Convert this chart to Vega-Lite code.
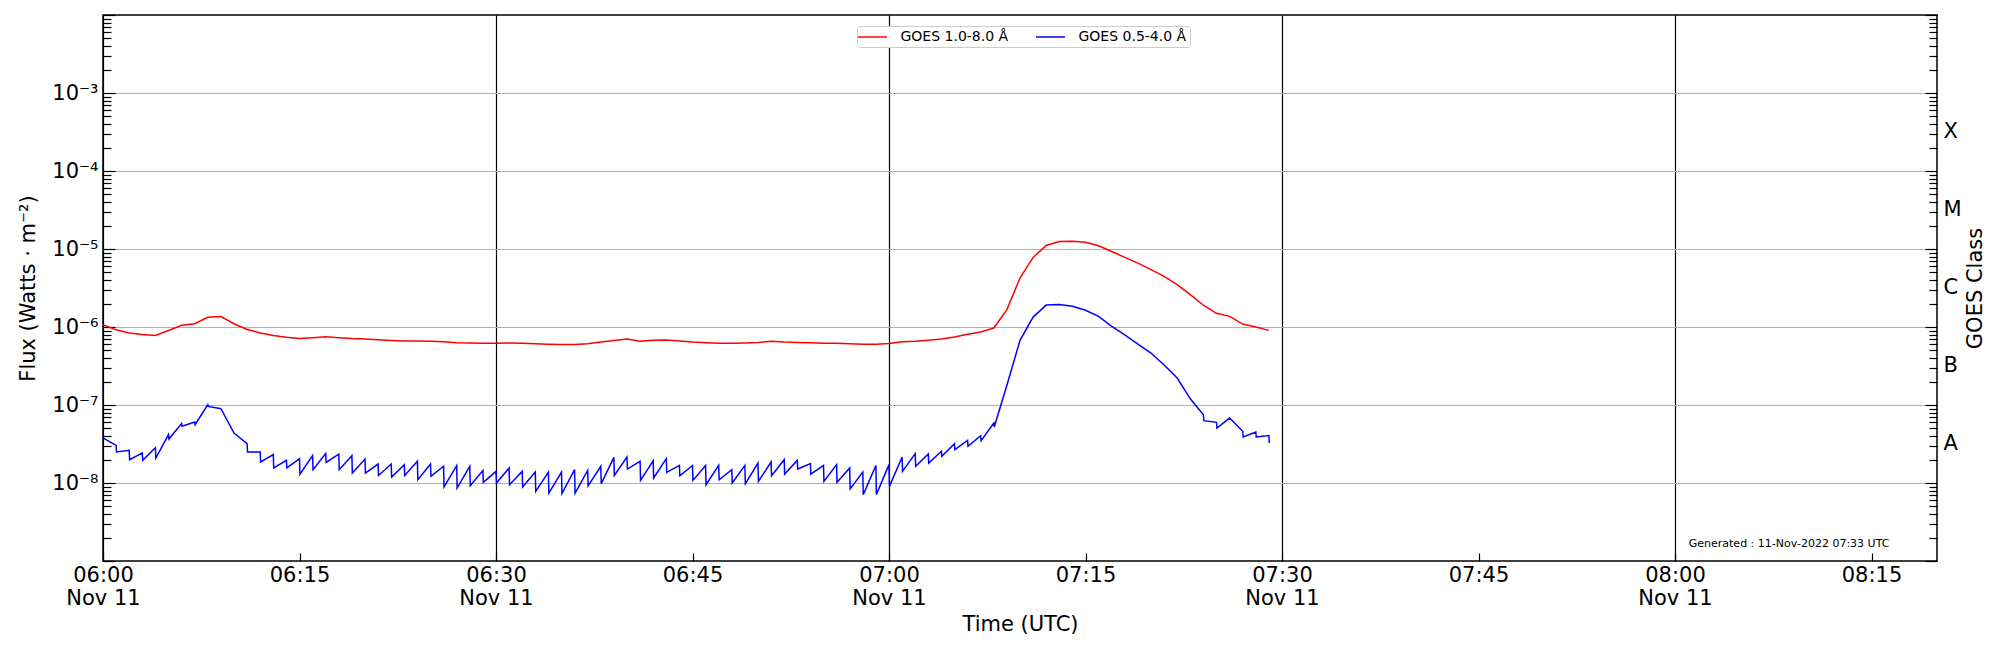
{
  "$schema": "https://vega.github.io/schema/vega-lite/v6.json",
  "width": 1834,
  "height": 546,
  "autosize": {"type": "none"},
  "padding": {"left": 103, "top": 15, "right": 63, "bottom": 89},
  "config": {
    "font": "DejaVu Sans",
    "view": {"stroke": "black", "strokeWidth": 1.5},
    "axis": {
      "domain": false,
      "labelFont": "DejaVu Sans",
      "titleFont": "DejaVu Sans",
      "labelColor": "black",
      "titleColor": "black",
      "tickColor": "black",
      "tickWidth": 1.2,
      "labelFontSize": 21,
      "titleFontSize": 21,
      "titleFontWeight": "normal",
      "labelOverlap": false,
      "labelBound": false,
      "labelFlush": false
    }
  },
  "layer": [
    {
      "data": {
        "values": [
          {"t": "2022-11-11T06:00:00Z", "s": "GOES 1.0-8.0 Å", "v": 1.07e-6},
          {"t": "2022-11-11T06:01:00Z", "s": "GOES 1.0-8.0 Å", "v": 9.2e-7},
          {"t": "2022-11-11T06:02:00Z", "s": "GOES 1.0-8.0 Å", "v": 8.4e-7},
          {"t": "2022-11-11T06:03:00Z", "s": "GOES 1.0-8.0 Å", "v": 8.0e-7},
          {"t": "2022-11-11T06:04:00Z", "s": "GOES 1.0-8.0 Å", "v": 7.8e-7},
          {"t": "2022-11-11T06:05:00Z", "s": "GOES 1.0-8.0 Å", "v": 9.0e-7},
          {"t": "2022-11-11T06:06:00Z", "s": "GOES 1.0-8.0 Å", "v": 1.05e-6},
          {"t": "2022-11-11T06:07:00Z", "s": "GOES 1.0-8.0 Å", "v": 1.10e-6},
          {"t": "2022-11-11T06:08:00Z", "s": "GOES 1.0-8.0 Å", "v": 1.33e-6},
          {"t": "2022-11-11T06:09:00Z", "s": "GOES 1.0-8.0 Å", "v": 1.36e-6},
          {"t": "2022-11-11T06:10:00Z", "s": "GOES 1.0-8.0 Å", "v": 1.10e-6},
          {"t": "2022-11-11T06:11:00Z", "s": "GOES 1.0-8.0 Å", "v": 9.3e-7},
          {"t": "2022-11-11T06:12:00Z", "s": "GOES 1.0-8.0 Å", "v": 8.4e-7},
          {"t": "2022-11-11T06:13:00Z", "s": "GOES 1.0-8.0 Å", "v": 7.8e-7},
          {"t": "2022-11-11T06:14:00Z", "s": "GOES 1.0-8.0 Å", "v": 7.4e-7},
          {"t": "2022-11-11T06:15:00Z", "s": "GOES 1.0-8.0 Å", "v": 7.1e-7},
          {"t": "2022-11-11T06:16:00Z", "s": "GOES 1.0-8.0 Å", "v": 7.3e-7},
          {"t": "2022-11-11T06:17:00Z", "s": "GOES 1.0-8.0 Å", "v": 7.5e-7},
          {"t": "2022-11-11T06:18:00Z", "s": "GOES 1.0-8.0 Å", "v": 7.3e-7},
          {"t": "2022-11-11T06:19:00Z", "s": "GOES 1.0-8.0 Å", "v": 7.1e-7},
          {"t": "2022-11-11T06:20:00Z", "s": "GOES 1.0-8.0 Å", "v": 7.0e-7},
          {"t": "2022-11-11T06:21:00Z", "s": "GOES 1.0-8.0 Å", "v": 6.85e-7},
          {"t": "2022-11-11T06:22:00Z", "s": "GOES 1.0-8.0 Å", "v": 6.7e-7},
          {"t": "2022-11-11T06:23:00Z", "s": "GOES 1.0-8.0 Å", "v": 6.6e-7},
          {"t": "2022-11-11T06:24:00Z", "s": "GOES 1.0-8.0 Å", "v": 6.6e-7},
          {"t": "2022-11-11T06:25:00Z", "s": "GOES 1.0-8.0 Å", "v": 6.55e-7},
          {"t": "2022-11-11T06:26:00Z", "s": "GOES 1.0-8.0 Å", "v": 6.45e-7},
          {"t": "2022-11-11T06:27:00Z", "s": "GOES 1.0-8.0 Å", "v": 6.3e-7},
          {"t": "2022-11-11T06:28:00Z", "s": "GOES 1.0-8.0 Å", "v": 6.25e-7},
          {"t": "2022-11-11T06:29:00Z", "s": "GOES 1.0-8.0 Å", "v": 6.2e-7},
          {"t": "2022-11-11T06:30:00Z", "s": "GOES 1.0-8.0 Å", "v": 6.2e-7},
          {"t": "2022-11-11T06:31:00Z", "s": "GOES 1.0-8.0 Å", "v": 6.25e-7},
          {"t": "2022-11-11T06:32:00Z", "s": "GOES 1.0-8.0 Å", "v": 6.2e-7},
          {"t": "2022-11-11T06:33:00Z", "s": "GOES 1.0-8.0 Å", "v": 6.1e-7},
          {"t": "2022-11-11T06:34:00Z", "s": "GOES 1.0-8.0 Å", "v": 6.0e-7},
          {"t": "2022-11-11T06:35:00Z", "s": "GOES 1.0-8.0 Å", "v": 5.95e-7},
          {"t": "2022-11-11T06:36:00Z", "s": "GOES 1.0-8.0 Å", "v": 5.95e-7},
          {"t": "2022-11-11T06:37:00Z", "s": "GOES 1.0-8.0 Å", "v": 6.1e-7},
          {"t": "2022-11-11T06:38:00Z", "s": "GOES 1.0-8.0 Å", "v": 6.4e-7},
          {"t": "2022-11-11T06:39:00Z", "s": "GOES 1.0-8.0 Å", "v": 6.7e-7},
          {"t": "2022-11-11T06:40:00Z", "s": "GOES 1.0-8.0 Å", "v": 7.0e-7},
          {"t": "2022-11-11T06:41:00Z", "s": "GOES 1.0-8.0 Å", "v": 6.55e-7},
          {"t": "2022-11-11T06:42:00Z", "s": "GOES 1.0-8.0 Å", "v": 6.75e-7},
          {"t": "2022-11-11T06:43:00Z", "s": "GOES 1.0-8.0 Å", "v": 6.8e-7},
          {"t": "2022-11-11T06:44:00Z", "s": "GOES 1.0-8.0 Å", "v": 6.6e-7},
          {"t": "2022-11-11T06:45:00Z", "s": "GOES 1.0-8.0 Å", "v": 6.4e-7},
          {"t": "2022-11-11T06:46:00Z", "s": "GOES 1.0-8.0 Å", "v": 6.3e-7},
          {"t": "2022-11-11T06:47:00Z", "s": "GOES 1.0-8.0 Å", "v": 6.2e-7},
          {"t": "2022-11-11T06:48:00Z", "s": "GOES 1.0-8.0 Å", "v": 6.2e-7},
          {"t": "2022-11-11T06:49:00Z", "s": "GOES 1.0-8.0 Å", "v": 6.25e-7},
          {"t": "2022-11-11T06:50:00Z", "s": "GOES 1.0-8.0 Å", "v": 6.35e-7},
          {"t": "2022-11-11T06:51:00Z", "s": "GOES 1.0-8.0 Å", "v": 6.55e-7},
          {"t": "2022-11-11T06:52:00Z", "s": "GOES 1.0-8.0 Å", "v": 6.4e-7},
          {"t": "2022-11-11T06:53:00Z", "s": "GOES 1.0-8.0 Å", "v": 6.35e-7},
          {"t": "2022-11-11T06:54:00Z", "s": "GOES 1.0-8.0 Å", "v": 6.3e-7},
          {"t": "2022-11-11T06:55:00Z", "s": "GOES 1.0-8.0 Å", "v": 6.2e-7},
          {"t": "2022-11-11T06:56:00Z", "s": "GOES 1.0-8.0 Å", "v": 6.2e-7},
          {"t": "2022-11-11T06:57:00Z", "s": "GOES 1.0-8.0 Å", "v": 6.1e-7},
          {"t": "2022-11-11T06:58:00Z", "s": "GOES 1.0-8.0 Å", "v": 6.0e-7},
          {"t": "2022-11-11T06:59:00Z", "s": "GOES 1.0-8.0 Å", "v": 6.0e-7},
          {"t": "2022-11-11T07:00:00Z", "s": "GOES 1.0-8.0 Å", "v": 6.15e-7},
          {"t": "2022-11-11T07:01:00Z", "s": "GOES 1.0-8.0 Å", "v": 6.45e-7},
          {"t": "2022-11-11T07:02:00Z", "s": "GOES 1.0-8.0 Å", "v": 6.55e-7},
          {"t": "2022-11-11T07:03:00Z", "s": "GOES 1.0-8.0 Å", "v": 6.75e-7},
          {"t": "2022-11-11T07:04:00Z", "s": "GOES 1.0-8.0 Å", "v": 7.0e-7},
          {"t": "2022-11-11T07:05:00Z", "s": "GOES 1.0-8.0 Å", "v": 7.45e-7},
          {"t": "2022-11-11T07:06:00Z", "s": "GOES 1.0-8.0 Å", "v": 8.05e-7},
          {"t": "2022-11-11T07:07:00Z", "s": "GOES 1.0-8.0 Å", "v": 8.65e-7},
          {"t": "2022-11-11T07:08:00Z", "s": "GOES 1.0-8.0 Å", "v": 9.7e-7},
          {"t": "2022-11-11T07:09:00Z", "s": "GOES 1.0-8.0 Å", "v": 1.67e-6},
          {"t": "2022-11-11T07:10:00Z", "s": "GOES 1.0-8.0 Å", "v": 4.25e-6},
          {"t": "2022-11-11T07:11:00Z", "s": "GOES 1.0-8.0 Å", "v": 7.8e-6},
          {"t": "2022-11-11T07:12:00Z", "s": "GOES 1.0-8.0 Å", "v": 1.11e-5},
          {"t": "2022-11-11T07:13:00Z", "s": "GOES 1.0-8.0 Å", "v": 1.25e-5},
          {"t": "2022-11-11T07:14:00Z", "s": "GOES 1.0-8.0 Å", "v": 1.26e-5},
          {"t": "2022-11-11T07:15:00Z", "s": "GOES 1.0-8.0 Å", "v": 1.22e-5},
          {"t": "2022-11-11T07:16:00Z", "s": "GOES 1.0-8.0 Å", "v": 1.10e-5},
          {"t": "2022-11-11T07:17:00Z", "s": "GOES 1.0-8.0 Å", "v": 9.3e-6},
          {"t": "2022-11-11T07:18:00Z", "s": "GOES 1.0-8.0 Å", "v": 7.8e-6},
          {"t": "2022-11-11T07:19:00Z", "s": "GOES 1.0-8.0 Å", "v": 6.6e-6},
          {"t": "2022-11-11T07:20:00Z", "s": "GOES 1.0-8.0 Å", "v": 5.45e-6},
          {"t": "2022-11-11T07:21:00Z", "s": "GOES 1.0-8.0 Å", "v": 4.45e-6},
          {"t": "2022-11-11T07:22:00Z", "s": "GOES 1.0-8.0 Å", "v": 3.5e-6},
          {"t": "2022-11-11T07:23:00Z", "s": "GOES 1.0-8.0 Å", "v": 2.6e-6},
          {"t": "2022-11-11T07:24:00Z", "s": "GOES 1.0-8.0 Å", "v": 1.9e-6},
          {"t": "2022-11-11T07:25:00Z", "s": "GOES 1.0-8.0 Å", "v": 1.5e-6},
          {"t": "2022-11-11T07:26:00Z", "s": "GOES 1.0-8.0 Å", "v": 1.37e-6},
          {"t": "2022-11-11T07:27:00Z", "s": "GOES 1.0-8.0 Å", "v": 1.09e-6},
          {"t": "2022-11-11T07:28:00Z", "s": "GOES 1.0-8.0 Å", "v": 1.0e-6},
          {"t": "2022-11-11T07:29:00Z", "s": "GOES 1.0-8.0 Å", "v": 9.05e-7},

          {"t": "2022-11-11T06:00:00Z", "s": "GOES 0.5-4.0 Å", "v": 3.78e-8},
          {"t": "2022-11-11T06:01:00Z", "s": "GOES 0.5-4.0 Å", "v": 3.04e-8},
          {"t": "2022-11-11T06:01:02Z", "s": "GOES 0.5-4.0 Å", "v": 2.50e-8},
          {"t": "2022-11-11T06:02:00Z", "s": "GOES 0.5-4.0 Å", "v": 2.62e-8},
          {"t": "2022-11-11T06:02:02Z", "s": "GOES 0.5-4.0 Å", "v": 1.99e-8},
          {"t": "2022-11-11T06:03:00Z", "s": "GOES 0.5-4.0 Å", "v": 2.43e-8},
          {"t": "2022-11-11T06:03:02Z", "s": "GOES 0.5-4.0 Å", "v": 1.95e-8},
          {"t": "2022-11-11T06:04:00Z", "s": "GOES 0.5-4.0 Å", "v": 2.84e-8},
          {"t": "2022-11-11T06:04:02Z", "s": "GOES 0.5-4.0 Å", "v": 2.09e-8},
          {"t": "2022-11-11T06:05:00Z", "s": "GOES 0.5-4.0 Å", "v": 4.17e-8},
          {"t": "2022-11-11T06:05:02Z", "s": "GOES 0.5-4.0 Å", "v": 3.66e-8},
          {"t": "2022-11-11T06:06:00Z", "s": "GOES 0.5-4.0 Å", "v": 5.77e-8},
          {"t": "2022-11-11T06:06:02Z", "s": "GOES 0.5-4.0 Å", "v": 5.33e-8},
          {"t": "2022-11-11T06:07:00Z", "s": "GOES 0.5-4.0 Å", "v": 6.05e-8},
          {"t": "2022-11-11T06:07:02Z", "s": "GOES 0.5-4.0 Å", "v": 5.6e-8},
          {"t": "2022-11-11T06:08:00Z", "s": "GOES 0.5-4.0 Å", "v": 1.01e-7},
          {"t": "2022-11-11T06:08:02Z", "s": "GOES 0.5-4.0 Å", "v": 9.6e-8},
          {"t": "2022-11-11T06:09:00Z", "s": "GOES 0.5-4.0 Å", "v": 8.98e-8},
          {"t": "2022-11-11T06:10:00Z", "s": "GOES 0.5-4.0 Å", "v": 4.37e-8},
          {"t": "2022-11-11T06:11:00Z", "s": "GOES 0.5-4.0 Å", "v": 3.19e-8},
          {"t": "2022-11-11T06:11:02Z", "s": "GOES 0.5-4.0 Å", "v": 2.50e-8},
          {"t": "2022-11-11T06:12:00Z", "s": "GOES 0.5-4.0 Å", "v": 2.50e-8},
          {"t": "2022-11-11T06:12:02Z", "s": "GOES 0.5-4.0 Å", "v": 1.86e-8},
          {"t": "2022-11-11T06:13:00Z", "s": "GOES 0.5-4.0 Å", "v": 2.31e-8},
          {"t": "2022-11-11T06:13:02Z", "s": "GOES 0.5-4.0 Å", "v": 1.56e-8},
          {"t": "2022-11-11T06:14:00Z", "s": "GOES 0.5-4.0 Å", "v": 1.95e-8},
          {"t": "2022-11-11T06:14:02Z", "s": "GOES 0.5-4.0 Å", "v": 1.56e-8},
          {"t": "2022-11-11T06:15:00Z", "s": "GOES 0.5-4.0 Å", "v": 2.05e-8},
          {"t": "2022-11-11T06:15:02Z", "s": "GOES 0.5-4.0 Å", "v": 1.30e-8},
          {"t": "2022-11-11T06:16:00Z", "s": "GOES 0.5-4.0 Å", "v": 2.24e-8},
          {"t": "2022-11-11T06:16:02Z", "s": "GOES 0.5-4.0 Å", "v": 1.48e-8},
          {"t": "2022-11-11T06:17:00Z", "s": "GOES 0.5-4.0 Å", "v": 2.38e-8},
          {"t": "2022-11-11T06:17:02Z", "s": "GOES 0.5-4.0 Å", "v": 1.84e-8},
          {"t": "2022-11-11T06:18:00Z", "s": "GOES 0.5-4.0 Å", "v": 2.35e-8},
          {"t": "2022-11-11T06:18:02Z", "s": "GOES 0.5-4.0 Å", "v": 1.48e-8},
          {"t": "2022-11-11T06:19:00Z", "s": "GOES 0.5-4.0 Å", "v": 2.24e-8},
          {"t": "2022-11-11T06:19:02Z", "s": "GOES 0.5-4.0 Å", "v": 1.34e-8},
          {"t": "2022-11-11T06:20:00Z", "s": "GOES 0.5-4.0 Å", "v": 2.03e-8},
          {"t": "2022-11-11T06:20:02Z", "s": "GOES 0.5-4.0 Å", "v": 1.34e-8},
          {"t": "2022-11-11T06:21:00Z", "s": "GOES 0.5-4.0 Å", "v": 1.75e-8},
          {"t": "2022-11-11T06:21:02Z", "s": "GOES 0.5-4.0 Å", "v": 1.25e-8},
          {"t": "2022-11-11T06:22:00Z", "s": "GOES 0.5-4.0 Å", "v": 1.75e-8},
          {"t": "2022-11-11T06:22:02Z", "s": "GOES 0.5-4.0 Å", "v": 1.19e-8},
          {"t": "2022-11-11T06:23:00Z", "s": "GOES 0.5-4.0 Å", "v": 1.72e-8},
          {"t": "2022-11-11T06:23:02Z", "s": "GOES 0.5-4.0 Å", "v": 1.25e-8},
          {"t": "2022-11-11T06:24:00Z", "s": "GOES 0.5-4.0 Å", "v": 1.90e-8},
          {"t": "2022-11-11T06:24:02Z", "s": "GOES 0.5-4.0 Å", "v": 1.10e-8},
          {"t": "2022-11-11T06:25:00Z", "s": "GOES 0.5-4.0 Å", "v": 1.75e-8},
          {"t": "2022-11-11T06:25:02Z", "s": "GOES 0.5-4.0 Å", "v": 1.22e-8},
          {"t": "2022-11-11T06:26:00Z", "s": "GOES 0.5-4.0 Å", "v": 1.64e-8},
          {"t": "2022-11-11T06:26:02Z", "s": "GOES 0.5-4.0 Å", "v": 8.9e-9},
          {"t": "2022-11-11T06:27:00Z", "s": "GOES 0.5-4.0 Å", "v": 1.67e-8},
          {"t": "2022-11-11T06:27:02Z", "s": "GOES 0.5-4.0 Å", "v": 8.6e-9},
          {"t": "2022-11-11T06:28:00Z", "s": "GOES 0.5-4.0 Å", "v": 1.64e-8},
          {"t": "2022-11-11T06:28:02Z", "s": "GOES 0.5-4.0 Å", "v": 9.2e-9},
          {"t": "2022-11-11T06:29:00Z", "s": "GOES 0.5-4.0 Å", "v": 1.45e-8},
          {"t": "2022-11-11T06:29:02Z", "s": "GOES 0.5-4.0 Å", "v": 1.02e-8},
          {"t": "2022-11-11T06:30:00Z", "s": "GOES 0.5-4.0 Å", "v": 1.41e-8},
          {"t": "2022-11-11T06:30:02Z", "s": "GOES 0.5-4.0 Å", "v": 1.0e-8},
          {"t": "2022-11-11T06:31:00Z", "s": "GOES 0.5-4.0 Å", "v": 1.56e-8},
          {"t": "2022-11-11T06:31:02Z", "s": "GOES 0.5-4.0 Å", "v": 9.5e-9},
          {"t": "2022-11-11T06:32:00Z", "s": "GOES 0.5-4.0 Å", "v": 1.41e-8},
          {"t": "2022-11-11T06:32:02Z", "s": "GOES 0.5-4.0 Å", "v": 8.9e-9},
          {"t": "2022-11-11T06:33:00Z", "s": "GOES 0.5-4.0 Å", "v": 1.38e-8},
          {"t": "2022-11-11T06:33:02Z", "s": "GOES 0.5-4.0 Å", "v": 7.8e-9},
          {"t": "2022-11-11T06:34:00Z", "s": "GOES 0.5-4.0 Å", "v": 1.38e-8},
          {"t": "2022-11-11T06:34:02Z", "s": "GOES 0.5-4.0 Å", "v": 7.4e-9},
          {"t": "2022-11-11T06:35:00Z", "s": "GOES 0.5-4.0 Å", "v": 1.38e-8},
          {"t": "2022-11-11T06:35:02Z", "s": "GOES 0.5-4.0 Å", "v": 7.3e-9},
          {"t": "2022-11-11T06:36:00Z", "s": "GOES 0.5-4.0 Å", "v": 1.48e-8},
          {"t": "2022-11-11T06:36:02Z", "s": "GOES 0.5-4.0 Å", "v": 7.4e-9},
          {"t": "2022-11-11T06:37:00Z", "s": "GOES 0.5-4.0 Å", "v": 1.45e-8},
          {"t": "2022-11-11T06:37:02Z", "s": "GOES 0.5-4.0 Å", "v": 9.2e-9},
          {"t": "2022-11-11T06:38:00Z", "s": "GOES 0.5-4.0 Å", "v": 1.64e-8},
          {"t": "2022-11-11T06:38:02Z", "s": "GOES 0.5-4.0 Å", "v": 9.8e-9},
          {"t": "2022-11-11T06:39:00Z", "s": "GOES 0.5-4.0 Å", "v": 2.13e-8},
          {"t": "2022-11-11T06:39:02Z", "s": "GOES 0.5-4.0 Å", "v": 1.25e-8},
          {"t": "2022-11-11T06:40:00Z", "s": "GOES 0.5-4.0 Å", "v": 2.15e-8},
          {"t": "2022-11-11T06:40:02Z", "s": "GOES 0.5-4.0 Å", "v": 1.51e-8},
          {"t": "2022-11-11T06:41:00Z", "s": "GOES 0.5-4.0 Å", "v": 1.90e-8},
          {"t": "2022-11-11T06:41:02Z", "s": "GOES 0.5-4.0 Å", "v": 1.08e-8},
          {"t": "2022-11-11T06:42:00Z", "s": "GOES 0.5-4.0 Å", "v": 1.93e-8},
          {"t": "2022-11-11T06:42:02Z", "s": "GOES 0.5-4.0 Å", "v": 1.16e-8},
          {"t": "2022-11-11T06:43:00Z", "s": "GOES 0.5-4.0 Å", "v": 2.05e-8},
          {"t": "2022-11-11T06:43:02Z", "s": "GOES 0.5-4.0 Å", "v": 1.37e-8},
          {"t": "2022-11-11T06:44:00Z", "s": "GOES 0.5-4.0 Å", "v": 1.68e-8},
          {"t": "2022-11-11T06:44:02Z", "s": "GOES 0.5-4.0 Å", "v": 1.24e-8},
          {"t": "2022-11-11T06:45:00Z", "s": "GOES 0.5-4.0 Å", "v": 1.68e-8},
          {"t": "2022-11-11T06:45:02Z", "s": "GOES 0.5-4.0 Å", "v": 1.08e-8},
          {"t": "2022-11-11T06:46:00Z", "s": "GOES 0.5-4.0 Å", "v": 1.68e-8},
          {"t": "2022-11-11T06:46:02Z", "s": "GOES 0.5-4.0 Å", "v": 9.5e-9},
          {"t": "2022-11-11T06:47:00Z", "s": "GOES 0.5-4.0 Å", "v": 1.68e-8},
          {"t": "2022-11-11T06:47:02Z", "s": "GOES 0.5-4.0 Å", "v": 1.10e-8},
          {"t": "2022-11-11T06:48:00Z", "s": "GOES 0.5-4.0 Å", "v": 1.48e-8},
          {"t": "2022-11-11T06:48:02Z", "s": "GOES 0.5-4.0 Å", "v": 1.0e-8},
          {"t": "2022-11-11T06:49:00Z", "s": "GOES 0.5-4.0 Å", "v": 1.68e-8},
          {"t": "2022-11-11T06:49:02Z", "s": "GOES 0.5-4.0 Å", "v": 9.8e-9},
          {"t": "2022-11-11T06:50:00Z", "s": "GOES 0.5-4.0 Å", "v": 1.80e-8},
          {"t": "2022-11-11T06:50:02Z", "s": "GOES 0.5-4.0 Å", "v": 1.05e-8},
          {"t": "2022-11-11T06:51:00Z", "s": "GOES 0.5-4.0 Å", "v": 1.86e-8},
          {"t": "2022-11-11T06:51:02Z", "s": "GOES 0.5-4.0 Å", "v": 1.24e-8},
          {"t": "2022-11-11T06:52:00Z", "s": "GOES 0.5-4.0 Å", "v": 1.99e-8},
          {"t": "2022-11-11T06:52:02Z", "s": "GOES 0.5-4.0 Å", "v": 1.30e-8},
          {"t": "2022-11-11T06:53:00Z", "s": "GOES 0.5-4.0 Å", "v": 1.95e-8},
          {"t": "2022-11-11T06:53:02Z", "s": "GOES 0.5-4.0 Å", "v": 1.51e-8},
          {"t": "2022-11-11T06:54:00Z", "s": "GOES 0.5-4.0 Å", "v": 1.77e-8},
          {"t": "2022-11-11T06:54:02Z", "s": "GOES 0.5-4.0 Å", "v": 1.30e-8},
          {"t": "2022-11-11T06:55:00Z", "s": "GOES 0.5-4.0 Å", "v": 1.68e-8},
          {"t": "2022-11-11T06:55:02Z", "s": "GOES 0.5-4.0 Å", "v": 1.05e-8},
          {"t": "2022-11-11T06:56:00Z", "s": "GOES 0.5-4.0 Å", "v": 1.72e-8},
          {"t": "2022-11-11T06:56:02Z", "s": "GOES 0.5-4.0 Å", "v": 1.02e-8},
          {"t": "2022-11-11T06:57:00Z", "s": "GOES 0.5-4.0 Å", "v": 1.56e-8},
          {"t": "2022-11-11T06:57:02Z", "s": "GOES 0.5-4.0 Å", "v": 8.4e-9},
          {"t": "2022-11-11T06:58:00Z", "s": "GOES 0.5-4.0 Å", "v": 1.38e-8},
          {"t": "2022-11-11T06:58:02Z", "s": "GOES 0.5-4.0 Å", "v": 7.1e-9},
          {"t": "2022-11-11T06:59:00Z", "s": "GOES 0.5-4.0 Å", "v": 1.68e-8},
          {"t": "2022-11-11T06:59:02Z", "s": "GOES 0.5-4.0 Å", "v": 7.1e-9},
          {"t": "2022-11-11T07:00:00Z", "s": "GOES 0.5-4.0 Å", "v": 1.72e-8},
          {"t": "2022-11-11T07:00:02Z", "s": "GOES 0.5-4.0 Å", "v": 9.06e-9},
          {"t": "2022-11-11T07:01:00Z", "s": "GOES 0.5-4.0 Å", "v": 2.15e-8},
          {"t": "2022-11-11T07:01:02Z", "s": "GOES 0.5-4.0 Å", "v": 1.41e-8},
          {"t": "2022-11-11T07:02:00Z", "s": "GOES 0.5-4.0 Å", "v": 2.38e-8},
          {"t": "2022-11-11T07:02:02Z", "s": "GOES 0.5-4.0 Å", "v": 1.64e-8},
          {"t": "2022-11-11T07:03:00Z", "s": "GOES 0.5-4.0 Å", "v": 2.35e-8},
          {"t": "2022-11-11T07:03:02Z", "s": "GOES 0.5-4.0 Å", "v": 1.80e-8},
          {"t": "2022-11-11T07:04:00Z", "s": "GOES 0.5-4.0 Å", "v": 2.55e-8},
          {"t": "2022-11-11T07:04:02Z", "s": "GOES 0.5-4.0 Å", "v": 2.20e-8},
          {"t": "2022-11-11T07:05:00Z", "s": "GOES 0.5-4.0 Å", "v": 3.19e-8},
          {"t": "2022-11-11T07:05:02Z", "s": "GOES 0.5-4.0 Å", "v": 2.68e-8},
          {"t": "2022-11-11T07:06:00Z", "s": "GOES 0.5-4.0 Å", "v": 3.52e-8},
          {"t": "2022-11-11T07:06:02Z", "s": "GOES 0.5-4.0 Å", "v": 2.95e-8},
          {"t": "2022-11-11T07:07:00Z", "s": "GOES 0.5-4.0 Å", "v": 4.04e-8},
          {"t": "2022-11-11T07:07:02Z", "s": "GOES 0.5-4.0 Å", "v": 3.49e-8},
          {"t": "2022-11-11T07:08:00Z", "s": "GOES 0.5-4.0 Å", "v": 5.87e-8},
          {"t": "2022-11-11T07:08:02Z", "s": "GOES 0.5-4.0 Å", "v": 5.22e-8},
          {"t": "2022-11-11T07:09:00Z", "s": "GOES 0.5-4.0 Å", "v": 1.79e-7},
          {"t": "2022-11-11T07:10:00Z", "s": "GOES 0.5-4.0 Å", "v": 6.74e-7},
          {"t": "2022-11-11T07:11:00Z", "s": "GOES 0.5-4.0 Å", "v": 1.34e-6},
          {"t": "2022-11-11T07:12:00Z", "s": "GOES 0.5-4.0 Å", "v": 1.91e-6},
          {"t": "2022-11-11T07:13:00Z", "s": "GOES 0.5-4.0 Å", "v": 1.94e-6},
          {"t": "2022-11-11T07:14:00Z", "s": "GOES 0.5-4.0 Å", "v": 1.84e-6},
          {"t": "2022-11-11T07:15:00Z", "s": "GOES 0.5-4.0 Å", "v": 1.64e-6},
          {"t": "2022-11-11T07:16:00Z", "s": "GOES 0.5-4.0 Å", "v": 1.37e-6},
          {"t": "2022-11-11T07:17:00Z", "s": "GOES 0.5-4.0 Å", "v": 1.02e-6},
          {"t": "2022-11-11T07:18:00Z", "s": "GOES 0.5-4.0 Å", "v": 7.9e-7},
          {"t": "2022-11-11T07:19:00Z", "s": "GOES 0.5-4.0 Å", "v": 6.05e-7},
          {"t": "2022-11-11T07:20:00Z", "s": "GOES 0.5-4.0 Å", "v": 4.64e-7},
          {"t": "2022-11-11T07:21:00Z", "s": "GOES 0.5-4.0 Å", "v": 3.26e-7},
          {"t": "2022-11-11T07:22:00Z", "s": "GOES 0.5-4.0 Å", "v": 2.22e-7},
          {"t": "2022-11-11T07:23:00Z", "s": "GOES 0.5-4.0 Å", "v": 1.2e-7},
          {"t": "2022-11-11T07:24:00Z", "s": "GOES 0.5-4.0 Å", "v": 7.5e-8},
          {"t": "2022-11-11T07:24:02Z", "s": "GOES 0.5-4.0 Å", "v": 6.3e-8},
          {"t": "2022-11-11T07:25:00Z", "s": "GOES 0.5-4.0 Å", "v": 6.0e-8},
          {"t": "2022-11-11T07:25:02Z", "s": "GOES 0.5-4.0 Å", "v": 5.07e-8},
          {"t": "2022-11-11T07:26:00Z", "s": "GOES 0.5-4.0 Å", "v": 6.8e-8},
          {"t": "2022-11-11T07:27:00Z", "s": "GOES 0.5-4.0 Å", "v": 4.6e-8},
          {"t": "2022-11-11T07:27:02Z", "s": "GOES 0.5-4.0 Å", "v": 3.89e-8},
          {"t": "2022-11-11T07:28:00Z", "s": "GOES 0.5-4.0 Å", "v": 4.5e-8},
          {"t": "2022-11-11T07:28:02Z", "s": "GOES 0.5-4.0 Å", "v": 3.89e-8},
          {"t": "2022-11-11T07:29:00Z", "s": "GOES 0.5-4.0 Å", "v": 4.05e-8},
          {"t": "2022-11-11T07:29:02Z", "s": "GOES 0.5-4.0 Å", "v": 3.26e-8}
        ]
      },
      "mark": {"type": "line", "strokeWidth": 1.5},
      "encoding": {
        "x": {
          "field": "t",
          "type": "temporal",
          "scale": {
            "type": "utc",
            "domain": [
              {"year": 2022, "month": 11, "date": 11, "hours": 6, "utc": true},
              {"year": 2022, "month": 11, "date": 11, "hours": 8, "minutes": 20, "utc": true}
            ]
          },
          "axis": {
            "title": "Time (UTC)",
            "titleX": 917,
            "titleY": 63,
            "titleBaseline": "middle",
            "titleAlign": "center",
            "values": [
              {"year": 2022, "month": 11, "date": 11, "hours": 6, "minutes": 0, "utc": true},
              {"year": 2022, "month": 11, "date": 11, "hours": 6, "minutes": 15, "utc": true},
              {"year": 2022, "month": 11, "date": 11, "hours": 6, "minutes": 30, "utc": true},
              {"year": 2022, "month": 11, "date": 11, "hours": 6, "minutes": 45, "utc": true},
              {"year": 2022, "month": 11, "date": 11, "hours": 7, "minutes": 0, "utc": true},
              {"year": 2022, "month": 11, "date": 11, "hours": 7, "minutes": 15, "utc": true},
              {"year": 2022, "month": 11, "date": 11, "hours": 7, "minutes": 30, "utc": true},
              {"year": 2022, "month": 11, "date": 11, "hours": 7, "minutes": 45, "utc": true},
              {"year": 2022, "month": 11, "date": 11, "hours": 8, "minutes": 0, "utc": true},
              {"year": 2022, "month": 11, "date": 11, "hours": 8, "minutes": 15, "utc": true}
            ],
            "labelExpr": "utcminutes(datum.value) % 30 == 0 ? [utcFormat(datum.value, '%H:%M'), utcFormat(datum.value, '%b %d')] : utcFormat(datum.value, '%H:%M')",
            "labelBaseline": "top",
            "labelLineHeight": 23,
            "labelPadding": 11,
            "tickSize": -8,
            "grid": true,
            "gridColor": "black",
            "gridWidth": 1.2,
            "gridOpacity": {"condition": {"test": "utcminutes(datum.value) % 30 == 0", "value": 1}, "value": 0}
          }
        },
        "y": {
          "field": "v",
          "type": "quantitative",
          "scale": {"type": "log", "domain": [1e-9, 1e-2], "nice": false},
          "axis": {
            "orient": "left",
            "title": "Flux (Watts · m⁻²)",
            "titleX": -75,
            "titleY": 273,
            "titleAngle": 270,
            "titleBaseline": "middle",
            "titleAlign": "center",
            "values": [1e-9, 2e-9, 3e-9, 4e-9, 5e-9, 6e-9, 7e-9, 8e-9, 9e-9,
                       1e-8, 2e-8, 3e-8, 4e-8, 5e-8, 6e-8, 7e-8, 8e-8, 9e-8,
                       1e-7, 2e-7, 3e-7, 4e-7, 5e-7, 6e-7, 7e-7, 8e-7, 9e-7,
                       1e-6, 2e-6, 3e-6, 4e-6, 5e-6, 6e-6, 7e-6, 8e-6, 9e-6,
                       1e-5, 2e-5, 3e-5, 4e-5, 5e-5, 6e-5, 7e-5, 8e-5, 9e-5,
                       1e-4, 2e-4, 3e-4, 4e-4, 5e-4, 6e-4, 7e-4, 8e-4, 9e-4,
                       1e-3, 2e-3, 3e-3, 4e-3, 5e-3, 6e-3, 7e-3, 8e-3, 9e-3, 1e-2],
            "labelExpr": "abs(log(datum.value)/LN10 - round(log(datum.value)/LN10)) < 0.01 && round(log(datum.value)/LN10) >= -8 && round(log(datum.value)/LN10) <= -3 ? '10⁻' + ['⁰','¹','²','³','⁴','⁵','⁶','⁷','⁸','⁹'][-round(log(datum.value)/LN10)] : ''",
            "labelBaseline": "middle",
            "labelPadding": 17,
            "tickSize": {"condition": {"test": "abs(log(datum.value)/LN10 - round(log(datum.value)/LN10)) < 0.01", "value": -12}, "value": -8},
            "grid": true,
            "gridColor": "#b0b0b0",
            "gridWidth": 1,
            "gridOpacity": {"condition": {"test": "abs(log(datum.value)/LN10 - round(log(datum.value)/LN10)) < 0.01 && round(log(datum.value)/LN10) >= -8 && round(log(datum.value)/LN10) <= -3", "value": 1}, "value": 0}
          }
        },
        "color": {
          "field": "s",
          "type": "nominal",
          "scale": {"domain": ["GOES 1.0-8.0 Å", "GOES 0.5-4.0 Å"], "range": ["#ff0000", "#0000ff"]},
          "legend": {
            "title": null,
            "orient": "none",
            "legendX": 754,
            "legendY": 11,
            "direction": "horizontal",
            "symbolType": "M-2,0H2",
            "symbolSize": 210,
            "symbolStrokeWidth": 1.5,
            "symbolOffset": 4.5,
            "labelFont": "DejaVu Sans",
            "labelFontSize": 14,
            "labelColor": "black",
            "labelOffset": 20,
            "columnPadding": 24,
            "padding": 3,
            "strokeColor": "#cccccc",
            "fillColor": "white",
            "cornerRadius": 3
          }
        }
      }
    },
    {
      "data": {
        "values": [
          {"t": "2022-11-11T08:01:03Z", "v": 1.667e-9, "label": "Generated : 11-Nov-2022 07:33 UTC"}
        ]
      },
      "mark": {"type": "text", "align": "left", "baseline": "middle", "fontSize": 11, "font": "DejaVu Sans", "color": "black"},
      "encoding": {
        "x": {
          "field": "t",
          "type": "temporal",
          "scale": {
            "type": "utc",
            "domain": [
              {"year": 2022, "month": 11, "date": 11, "hours": 6, "utc": true},
              {"year": 2022, "month": 11, "date": 11, "hours": 8, "minutes": 20, "utc": true}
            ]
          }
        },
        "y": {
          "field": "v",
          "type": "quantitative",
          "scale": {"type": "log", "domain": [1e-9, 1e-2], "nice": false},
          "axis": {
            "orient": "right",
            "title": "GOES Class",
            "titleX": 38,
            "titleY": 273,
            "titleAngle": 270,
            "titleBaseline": "middle",
            "titleAlign": "center",
            "values": [1e-9, 2e-9, 3e-9, 4e-9, 5e-9, 6e-9, 7e-9, 8e-9, 9e-9,
                       1e-8, 2e-8, 3e-8, 3.1623e-8, 4e-8, 5e-8, 6e-8, 7e-8, 8e-8, 9e-8,
                       1e-7, 2e-7, 3e-7, 3.1623e-7, 4e-7, 5e-7, 6e-7, 7e-7, 8e-7, 9e-7,
                       1e-6, 2e-6, 3e-6, 3.1623e-6, 4e-6, 5e-6, 6e-6, 7e-6, 8e-6, 9e-6,
                       1e-5, 2e-5, 3e-5, 3.1623e-5, 4e-5, 5e-5, 6e-5, 7e-5, 8e-5, 9e-5,
                       1e-4, 2e-4, 3e-4, 3.1623e-4, 4e-4, 5e-4, 6e-4, 7e-4, 8e-4, 9e-4,
                       1e-3, 2e-3, 3e-3, 4e-3, 5e-3, 6e-3, 7e-3, 8e-3, 9e-3, 1e-2],
            "labelExpr": "abs(log(datum.value)/LN10 - floor(log(datum.value)/LN10) - 0.5) < 0.01 ? ['A','B','C','M','X'][floor(log(datum.value)/LN10) + 8] : ''",
            "labelBaseline": "middle",
            "labelAlign": "left",
            "labelPadding": 14,
            "tickSize": {"condition": {"test": "abs(log(datum.value)/LN10 - round(log(datum.value)/LN10)) < 0.01", "value": -12}, "value": -8},
            "tickOpacity": {"condition": {"test": "abs(log(datum.value)/LN10 - floor(log(datum.value)/LN10) - 0.5) < 0.01", "value": 0}, "value": 1},
            "grid": false
          }
        },
        "text": {"field": "label"}
      }
    }
  ],
  "resolve": {"axis": {"y": "independent"}}
}
